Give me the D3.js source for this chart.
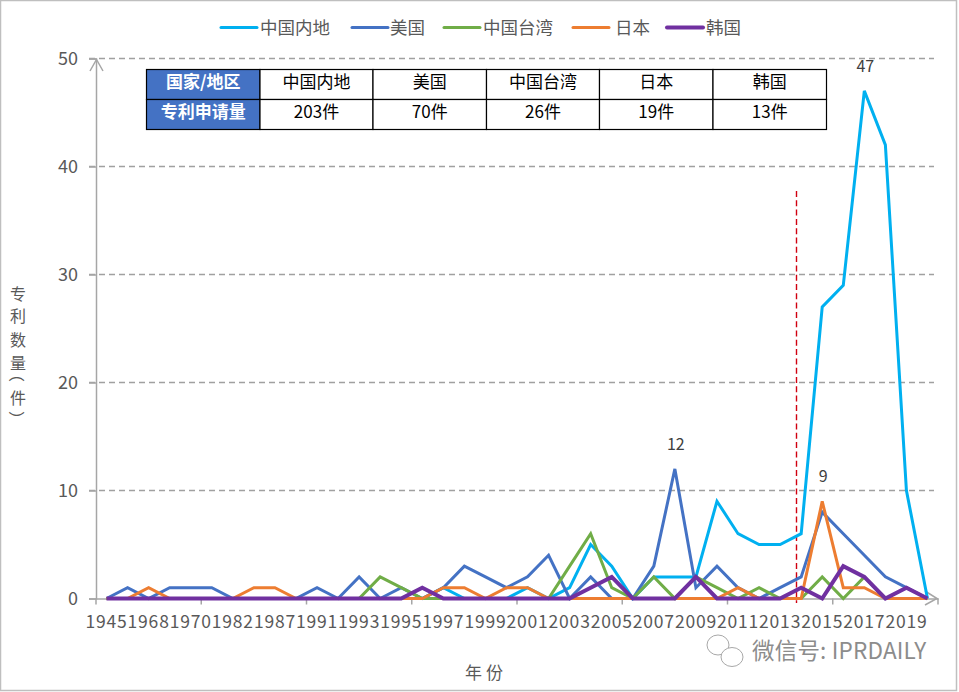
<!DOCTYPE html>
<html>
<head>
<meta charset="utf-8">
<script src="https://cdn.jsdelivr.net/npm/d3@7/dist/d3.min.js"></script>
<style>
  html, body { margin: 0; padding: 0; background: #fff; }
  svg { display: block; }
  text { font-family: "Noto Sans CJK SC", "Liberation Sans", sans-serif; }
</style>
</head>
<body>
<div id="chart"></div>
<script>
// categories: the odd slots before 1993 have no visible label, so those years are estimates
var years = ['1945','1951','1968','1969','1970','1981','1982','1986','1987','1990','1991','1992',
  '1993','1994','1995','1996','1997','1998','1999','2000','2001','2002','2003','2004','2005','2006',
  '2007','2008','2009','2010','2011','2012','2013','2014','2015','2016','2017','2018','2019','2020'];

var mainland = [0,0,0,0,0,0,0,0,0,0,0,0,0,0,0,0,1,0,0,0,1,0,1,5,3,0,2,2,2,9,6,5,5,6,27,29,47,42,10,0];
var usa      = [0,1,0,1,1,1,0,0,0,0,1,0,2,0,1,0,1,3,2,1,2,4,0,2,0,0,3,12,1,3,1,0,1,2,8,6,4,2,1,0];
var taiwan   = [0,0,0,0,0,0,0,0,0,0,0,0,0,2,1,0,0,0,0,0,0,0,3,6,1,0,2,0,2,1,0,1,0,0,2,0,2,0,0,0];
var japan    = [0,0,1,0,0,0,0,1,1,0,0,0,0,0,0,0,1,1,0,1,1,0,0,0,0,0,0,0,0,0,1,0,0,0,9,1,1,0,0,0];
var korea    = [0,0,0,0,0,0,0,0,0,0,0,0,0,0,0,1,0,0,0,0,0,0,0,1,2,0,0,0,2,0,0,0,0,1,0,3,2,0,1,0];

var seriesNames = ['中国内地','美国','中国台湾','日本','韩国'];
var seriesValues = [mainland, usa, taiwan, japan, korea];
var seriesColors = ['#00b0f0','#4472c4','#70ad47','#ed7d31','#7030a0'];
var seriesWidths = [3, 3, 3, 3, 4];

var yTicks = [0,10,20,30,40,50];
var tableHead = ['国家/地区','中国内地','美国','中国台湾','日本','韩国'];
var tableRow = ['专利申请量','203件','70件','26件','19件','13件'];

// labelled peaks: [series index, category]
var peakLabels = [[0,'2017'],[1,'2008'],[3,'2015']];

var width = 959, height = 692;
var svg = d3.select('#chart').append('svg').attr('width', width).attr('height', height);

svg.append('rect').attr('x', 0.5).attr('y', 0.5).attr('width', 956).attr('height', 690)
  .attr('fill', '#fff').attr('stroke', '#bfbfbf').attr('stroke-width', 1.5);

var x = d3.scaleBand().domain(years).range([96, 938]);
var y = d3.scaleLinear().domain([0, 50]).range([598.5, 58.5]);
var cx = function (d) { return x(d) + x.bandwidth() / 2; };

// gridlines
svg.append('g').selectAll('line').data(yTicks.filter(function (d) { return d > 0; })).enter().append('line')
  .attr('x1', 89).attr('x2', 934)
  .attr('y1', function (d) { return y(d); }).attr('y2', function (d) { return y(d); })
  .attr('stroke', '#a0a0a0').attr('stroke-width', 1.7).attr('stroke-dasharray', '6,4');

// y axis
var yAxis = svg.append('g').attr('transform', 'translate(96,0)')
  .call(d3.axisLeft(y).tickValues(yTicks).tickSize(7).tickPadding(11));
yAxis.selectAll('.domain').attr('stroke', '#a6a6a6').attr('stroke-width', 1.5);
yAxis.selectAll('line').attr('stroke', '#a6a6a6').attr('stroke-width', 1.5);
yAxis.selectAll('text').attr('font-size', 18).attr('fill', '#595959')
  .style('font-family', '"Noto Sans CJK SC"');

// x axis: labels on every second category, tick marks every fifth band edge
var xAxis = svg.append('g').attr('transform', 'translate(0,598.5)')
  .call(d3.axisBottom(x).tickValues(years.filter(function (d, i) { return i % 2 === 0 && i < 39; }))
    .tickSize(0).tickPadding(17));
xAxis.selectAll('.domain').attr('stroke', '#a6a6a6').attr('stroke-width', 1.5);
xAxis.selectAll('text').attr('font-size', 17.5).attr('fill', '#595959')
  .attr('letter-spacing', 0.8).style('font-family', '"Noto Sans CJK SC"');
xAxis.selectAll('.edge').data(d3.range(0, 41, 5)).enter().append('line')
  .attr('class', 'edge')
  .attr('x1', function (i) { return x.range()[0] + i * x.step(); })
  .attr('x2', function (i) { return x.range()[0] + i * x.step(); })
  .attr('y1', 0).attr('y2', 6)
  .attr('stroke', '#a6a6a6').attr('stroke-width', 1.5);

// axis arrow heads
svg.append('path').attr('d', 'M90,71L96.5,59.5L103,71').attr('fill', 'none')
  .attr('stroke', '#a6a6a6').attr('stroke-width', 1.5);
svg.append('path').attr('d', 'M925,591L937,598.5L925,605').attr('fill', 'none')
  .attr('stroke', '#a6a6a6').attr('stroke-width', 1.5);

// red marker between 2013 and 2014
svg.append('line').attr('x1', 796.5).attr('x2', 796.5).attr('y1', 191).attr('y2', 603)
  .attr('stroke', '#d00010').attr('stroke-width', 1.4).attr('stroke-dasharray', '6,3.3');

// series lines
var line = d3.line()
  .x(function (d, i) { return cx(years[i]); })
  .y(function (d) { return y(d); });

svg.append('g').selectAll('path').data(seriesValues).enter().append('path')
  .attr('d', line)
  .attr('fill', 'none')
  .attr('stroke', function (d, i) { return seriesColors[i]; })
  .attr('stroke-width', function (d, i) { return seriesWidths[i]; })
  .attr('stroke-linejoin', 'miter');

// peak labels
svg.append('g').selectAll('text').data(peakLabels).enter().append('text')
  .attr('x', function (d) { return cx(d[1]) + 1; })
  .attr('y', function (d) { return y(seriesValues[d[0]][years.indexOf(d[1])]) - 19; })
  .attr('text-anchor', 'middle').attr('font-size', 16).attr('fill', '#404040')
  .text(function (d) { return seriesValues[d[0]][years.indexOf(d[1])]; });

// legend
var legendLine = [221, 352, 444, 573, 667];
var legendText = [260, 390, 483, 615, 706];
var legend = svg.append('g').selectAll('g').data(seriesNames).enter().append('g');
legend.append('line')
  .attr('x1', function (d, i) { return legendLine[i]; })
  .attr('x2', function (d, i) { return legendLine[i] + 36; })
  .attr('y1', 27.5).attr('y2', 27.5)
  .attr('stroke', function (d, i) { return seriesColors[i]; })
  .attr('stroke-width', function (d, i) { return seriesWidths[i]; })
  .attr('stroke-linecap', 'round');
legend.append('text')
  .attr('x', function (d, i) { return legendText[i]; })
  .attr('y', 34).attr('font-size', 17.5).attr('fill', '#595959')
  .text(function (d) { return d; });

// summary table
var colEdges = [146.5, 260, 373, 486.5, 599.5, 713, 826.5];
var rowEdges = [69.5, 99.5, 129.5];
[tableHead, tableRow].forEach(function (row, r) {
  var g = svg.append('g');
  row.forEach(function (t, c) {
    g.append('rect')
      .attr('x', colEdges[c]).attr('y', rowEdges[r])
      .attr('width', colEdges[c + 1] - colEdges[c]).attr('height', rowEdges[r + 1] - rowEdges[r])
      .attr('fill', c === 0 ? '#4472c4' : '#fff')
      .attr('stroke', '#000').attr('stroke-width', 1.2);
    g.append('text')
      .attr('x', (colEdges[c] + colEdges[c + 1]) / 2)
      .attr('y', rowEdges[r] + 18.5)
      .attr('text-anchor', 'middle').attr('font-size', 17)
      .attr('font-weight', c === 0 ? 700 : 400)
      .attr('fill', c === 0 ? '#fff' : '#000')
      .text(t);
  });
});

// axis titles, stacked by hand; the brackets turn to read along the column
var yTitle = ['专','利','数','量','（','件','）'];
var yTitlePos = [293, 315, 339, 362, 374, 397, 419];
svg.append('g').selectAll('text').data(yTitle).enter().append('text')
  .attr('text-anchor', 'middle').attr('dominant-baseline', 'central')
  .attr('font-size', 16).attr('fill', '#595959')
  .attr('transform', function (d, i) {
    var t = 'translate(18,' + yTitlePos[i] + ')';
    return d === '（' || d === '）' ? t + ' rotate(90)' : t;
  })
  .text(function (d) { return d; });
svg.append('text').attr('x', 484).attr('y', 679).attr('text-anchor', 'middle')
  .attr('font-size', 17).attr('fill', '#595959').attr('xml:space', 'preserve').text('年 份');

// watermark
var mark = svg.append('g').attr('fill', '#fff').attr('stroke', '#a8a8a8').attr('stroke-width', 1);
mark.append('ellipse').attr('cx', 718).attr('cy', 645).attr('rx', 11).attr('ry', 10);
mark.append('ellipse').attr('cx', 732).attr('cy', 657).attr('rx', 11).attr('ry', 9.5);
svg.append('text').attr('x', 752).attr('y', 659).attr('font-size', 22.5)
  .attr('fill', '#8c8c8c').attr('letter-spacing', 0.2).text('微信号: IPRDAILY');
</script>
</body>
</html>
